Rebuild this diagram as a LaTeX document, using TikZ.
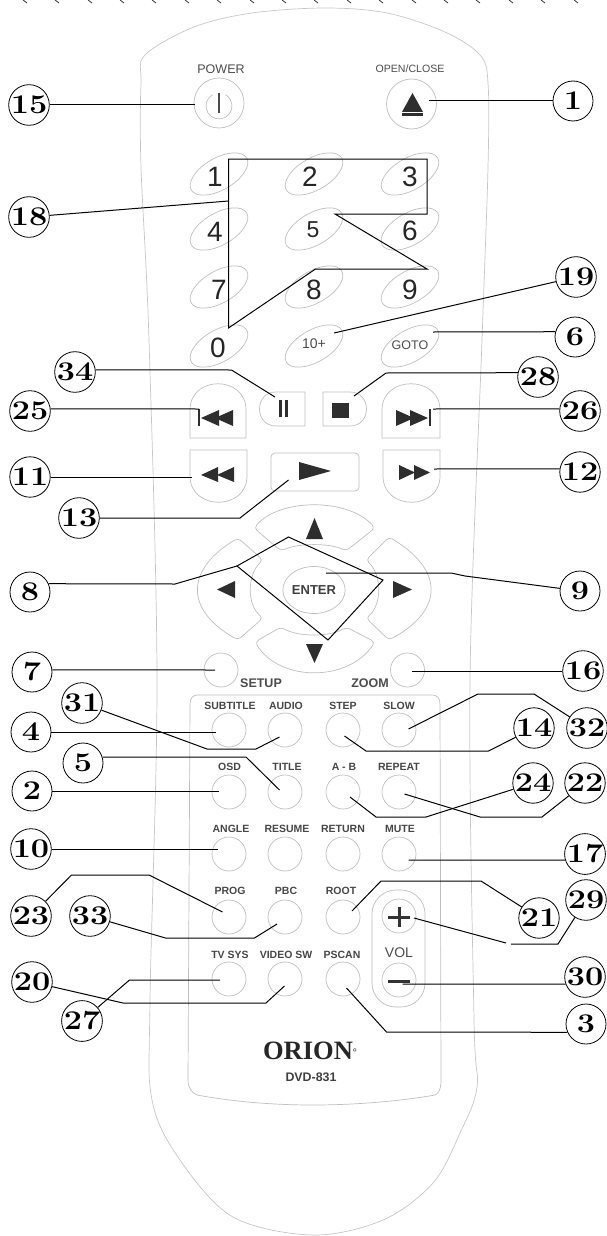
\documentclass[tikz,border=0pt]{standalone}
\usepackage{fontspec}
\setsansfont{Liberation Sans}
\newfontfamily\brandfont{Liberation Serif}
\usetikzlibrary{shapes.geometric}
\newcommand{\num}[1]{\scalebox{1.2}[1]{#1}}

\begin{document}
\begin{tikzpicture}[x=1pt, y=-1pt,
    badge/.style={draw, circle, line width=0.8pt, minimum size=40pt, inner sep=0pt, font=\bfseries\fontsize{27}{27}\selectfont},
    leader/.style={draw, line width=1pt, black, line join=miter},
    bodyline/.style={draw, line width=0.7pt, black!22},
    keyline/.style={draw, line width=0.7pt, black!25},
    round key/.style={keyline, circle, minimum size=34pt, inner sep=0pt},
    icon/.style={fill=black!82},
    digit/.style={text=black!85, inner sep=0pt, font=\sffamily\fontsize{28}{28}\selectfont},
    keytext/.style={text=black!72, inner sep=0pt, font=\sffamily\bfseries\fontsize{10.5}{12}\selectfont},
    bigtext/.style={text=black!70, inner sep=0pt, font=\sffamily\fontsize{12.5}{14}\selectfont}
]
\useasboundingbox (0,0) rectangle (607,1236);

% Ticks left on the top edge
\draw[line width=0.8pt, black!80] (23,0) -- ++(4,3) (55,0) -- ++(4,3) (88,0) -- ++(4,3) (120,0) -- ++(4,3)
    (152,0) -- ++(4,3) (185,0) -- ++(4,3) (217,0) -- ++(4,3) (250,0) -- ++(4,3) (282,0) -- ++(4,3)
    (314,0) -- ++(4,3) (347,0) -- ++(4,3) (379,0) -- ++(4,3) (412,0) -- ++(4,3) (444,0) -- ++(4,3)
    (476,0) -- ++(4,3) (509,0) -- ++(4,3) (541,0) -- ++(4,3) (574,0) -- ++(4,3);

% Remote body and lower panel
\draw[bodyline] plot[smooth cycle, tension=0.55] coordinates {(325,8) (387,13) (445,32) (480,55) (488,83) (488,167)
    (482,340) (470,680) (474,1020) (477,1087) (460,1133) (433,1183) (383,1220) (313,1235) (233,1217)
    (180,1160) (152,1100) (150,1000) (157,680) (149,340) (141,167) (141,83) (145,55) (194,27) (252,13)};
\draw[keyline] (199,695) -- (431,695) .. controls (438,695) and (440,698) .. (440,705) -- (441,1080)
    .. controls (441,1090) and (438,1094) .. (435,1095) .. controls (395,1102) and (350,1105) .. (313,1105)
    .. controls (275,1105) and (235,1102) .. (197,1095) .. controls (192,1093) and (188,1088) .. (188,1080)
    -- (190,705) .. controls (190,698) and (192,695) .. (199,695) -- cycle;

% Power and open/close
\node[bigtext, font=\sffamily\fontsize{12.5}{14}\selectfont] (powerText) at (221,69) {POWER};
\node[bigtext, font=\sffamily\fontsize{10.6}{12}\selectfont] (openText) at (410,69) {OPEN/CLOSE};
\node[round key, minimum size=50pt] (power) at (219,103) {};
\node[round key, minimum size=50pt] (open) at (411.5,104) {};
\draw[keyline] (212.5,94.7) arc[start angle=120, end angle=420, radius=13pt];
\draw[line width=1.2pt, black!70] (219,93) -- (219,113);
\fill[icon] (412.5,93) -- (423,112) -- (402,112) -- cycle;
\fill[icon] (402,113.5) rectangle (423,116);

% Number keys
\draw[keyline, rotate around={30:(219,174)}] (219,174) ellipse (32 and 16);
\draw[keyline, rotate around={30:(314,174)}] (314,174) ellipse (32 and 16);
\draw[keyline, rotate around={30:(410,174)}] (410,174) ellipse (32 and 16);
\draw[keyline, rotate around={30:(219,229)}] (219,229) ellipse (32 and 16);
\draw[keyline, rotate around={30:(314,229)}] (314,229) ellipse (32 and 16);
\draw[keyline, rotate around={30:(410,229)}] (410,229) ellipse (32 and 16);
\draw[keyline, rotate around={30:(219,287)}] (219,287) ellipse (32 and 16);
\draw[keyline, rotate around={30:(314,287)}] (314,287) ellipse (32 and 16);
\draw[keyline, rotate around={30:(410,287)}] (410,287) ellipse (32 and 16);
\draw[keyline, rotate around={30:(219,346)}] (219,346) ellipse (32 and 16);
\draw[keyline, rotate around={30:(314,346)}] (314,346) ellipse (32 and 16);
\draw[keyline, rotate around={30:(410,346)}] (410,346) ellipse (32 and 16);
\node[digit] (d1) at (215,177) {1};
\node[digit] (d2) at (310,177) {2};
\node[digit] (d3) at (410,177) {3};
\node[digit] (d4) at (215,232) {4};
\node[digit, font=\sffamily\fontsize{23}{23}\selectfont] (d5) at (313,230) {5};
\node[digit] (d6) at (410,231) {6};
\node[digit] (d7) at (219,290) {7};
\node[digit] (d8) at (314,290) {8};
\node[digit] (d9) at (410,290) {9};
\node[digit] (d0) at (218,348) {0};
\node[bigtext, font=\sffamily\fontsize{14}{14}\selectfont] (d10) at (314,344) {10+};
\node[bigtext] (goto) at (410,345) {GOTO};

% Transport keys
\draw[keyline] (190,438) -- (190,410) .. controls (190,375) and (246,375) .. (246,410) -- (246,438) -- cycle;
\draw[keyline] (382,438) -- (382,410) .. controls (382,375) and (440,375) .. (440,410) -- (440,438) -- cycle;
\draw[keyline] (190,450) -- (190,476) .. controls (190,511) and (247,511) .. (247,476) -- (247,450) -- cycle;
\draw[keyline] (383,450) -- (383,476) .. controls (383,511) and (440,511) .. (440,476) -- (440,450) -- cycle;
\draw[keyline] (305,392) -- (305,426) -- (276,426) .. controls (254,426) and (254,392) .. (276,392) -- cycle;
\draw[keyline] (323,392) -- (323,426) -- (350,426) .. controls (372,426) and (372,392) .. (350,392) -- cycle;
\draw[keyline, rounded corners=4pt] (271,453) rectangle (359,491);
\fill[icon] (198,409) rectangle (200,426);
\fill[icon] (201,418) -- (219,410) -- (219,426) -- cycle;
\fill[icon] (215,418) -- (233,410) -- (233,426) -- cycle;
\fill[icon] (428.5,409) rectangle (430.5,426);
\fill[icon] (428,418) -- (410,410) -- (410,426) -- cycle;
\fill[icon] (414,418) -- (396,410) -- (396,426) -- cycle;
\fill[icon] (279,400) rectangle (282,417);
\fill[icon] (285,400) rectangle (288,417);
\fill[icon] (332,403) rectangle (349,418);
\fill[icon] (201,475) -- (218,467) -- (218,482) -- cycle;
\fill[icon] (217,475) -- (234,467) -- (234,482) -- cycle;
\fill[icon] (430,472.5) -- (414,465) -- (414,480) -- cycle;
\fill[icon] (415,472.5) -- (399,465) -- (399,480) -- cycle;
\fill[icon] (331,471) -- (299,462) -- (299,480) -- cycle;

% Arrow ring
\draw[keyline, rounded corners=4pt] (254,528) .. controls (280,498) and (348,498) .. (375,528) -- (346,551) .. controls (330,543) and (298,543) .. (281,551) -- cycle;
\draw[keyline, rounded corners=4pt] (255,642) .. controls (280,682) and (348,682) .. (375,642) -- (346,627) .. controls (330,637) and (298,637) .. (281,627) -- cycle;
\draw[keyline, rounded corners=4pt] (238,538) .. controls (185,570) and (185,610) .. (238,640) -- (263,618) .. controls (247,605) and (247,575) .. (263,560) -- cycle;
\draw[keyline, rounded corners=4pt] (389,537) .. controls (444,570) and (444,610) .. (389,640) -- (366,618) .. controls (382,605) and (382,575) .. (366,560) -- cycle;
\node[keyline, ellipse, minimum width=58pt, minimum height=47pt, inner sep=0pt, text=black!75, font=\sffamily\bfseries\fontsize{13}{14}\selectfont] (enter) at (314,590) {ENTER};
\fill[icon] (314.5,518) -- (323,539) -- (306,539) -- cycle;
\fill[icon] (314.5,663) -- (323,644) -- (306,644) -- cycle;
\fill[icon] (217,589.5) -- (235,581) -- (235,598) -- cycle;
\fill[icon] (412,589.5) -- (393,581) -- (393,598) -- cycle;

% Setup and zoom
\node[round key] (setup) at (221,670) {};
\node[round key] (zoom) at (407.5,670) {};
\node[bigtext, font=\sffamily\bfseries\fontsize{12.5}{14}\selectfont] (setupText) at (261,683) {SETUP};
\node[bigtext, font=\sffamily\bfseries\fontsize{12.5}{14}\selectfont] (zoomText) at (370,683) {ZOOM};

% Round keys of the panel
\node[round key] (subtitle) at (229,730) {};
\node[round key] (audio) at (285,730) {};
\node[round key] (stepkey) at (343,730) {};
\node[round key] (slow) at (399,730) {};
\node[round key] (osd) at (229,792) {};
\node[round key] (title) at (285,792) {};
\node[round key] (ab) at (343,792) {};
\node[round key] (repeat) at (399,792) {};
\node[round key] (angle) at (229,854) {};
\node[round key] (resume) at (285,854) {};
\node[round key] (return) at (343,854) {};
\node[round key] (mute) at (399,854) {};
\node[round key] (prog) at (229,917) {};
\node[round key] (pbc) at (285,917) {};
\node[round key] (root) at (343,917) {};
\node[round key] (tvsys) at (229,979) {};
\node[round key] (videosw) at (285,979) {};
\node[round key] (pscan) at (343,979) {};

\node[keytext] (subtitleText) at (230,706) {SUBTITLE};
\node[keytext] (audioText) at (286,706) {AUDIO};
\node[keytext] (stepText) at (343,706) {STEP};
\node[keytext] (slowText) at (399,706) {SLOW};
\node[keytext] (osdText) at (229.5,767) {OSD};
\node[keytext] (titleText) at (287,767) {TITLE};
\node[keytext] (abText) at (344,767) {A - B};
\node[keytext] (repeatText) at (399,767) {REPEAT};
\node[keytext] (angleText) at (231,829) {ANGLE};
\node[keytext] (resumeText) at (287,829) {RESUME};
\node[keytext] (returnText) at (343,829) {RETURN};
\node[keytext] (muteText) at (400,829) {MUTE};
\node[keytext] (progText) at (230,891) {PROG};
\node[keytext] (pbcText) at (286,891) {PBC};
\node[keytext] (rootText) at (341,891) {ROOT};
\node[keytext] (tvsysText) at (230,955) {TV SYS};
\node[keytext] (videoswText) at (286,955) {VIDEO SW};
\node[keytext] (pscanText) at (342,955) {PSCAN};

% Volume
\draw[keyline, rounded corners=24pt] (372,890) rectangle (425,1007);
\node[round key] (volUp) at (399,916) {};
\node[round key] (volDown) at (399,980) {};
\node[bigtext, font=\sffamily\fontsize{14}{14}\selectfont] (volText) at (399,953) {VOL};
\draw[line width=3pt, black!80] (388,917) -- (410,917) (399,907) -- (399,927);
\draw[line width=3pt, black!80] (388,981.5) -- (410,981.5);

% Brand
\node[inner sep=0pt, text=black!85, font=\brandfont\bfseries\fontsize{26.5}{28}\selectfont] (brand) at (310,1051) {ORION\raisebox{4pt}{\fontsize{10}{10}\selectfont°}};
\node[inner sep=0pt, text=black!75, font=\sffamily\bfseries\fontsize{12.4}{14}\selectfont] (model) at (311,1077) {DVD-831};

% Number badges, left side
\node[badge] (b15) at (29,105) {\num{15}};
\node[badge] (b18) at (29,217) {\num{18}};
\node[badge] (b34) at (75,372) {\num{34}};
\node[badge] (b25) at (30,411) {\num{25}};
\node[badge] (b11) at (30,477) {\num{11}};
\node[badge] (b13) at (79,518) {\num{13}};
\node[badge] (b8) at (30,592) {\num{8}};
\node[badge] (b7) at (32,672) {\num{7}};
\node[badge] (b31) at (82,703) {\num{31}};
\node[badge] (b4) at (31,732) {\num{4}};
\node[badge] (b5) at (83,763) {\num{5}};
\node[badge] (b2) at (32,791) {\num{2}};
\node[badge] (b10) at (31,849) {\num{10}};
\node[badge] (b23) at (31,916) {\num{23}};
\node[badge] (b33) at (90,916) {\num{33}};
\node[badge] (b20) at (32,982) {\num{20}};
\node[badge] (b27) at (82,1021) {\num{27}};

% Number badges, right side
\node[badge] (b1) at (573,101) {\num{1}};
\node[badge] (b19) at (576,277) {\num{19}};
\node[badge] (b6) at (575,337) {\num{6}};
\node[badge] (b28) at (538,377) {\num{28}};
\node[badge] (b26) at (580,411) {\num{26}};
\node[badge] (b12) at (580,472) {\num{12}};
\node[badge] (b9) at (580,591) {\num{9}};
\node[badge] (b16) at (583,671) {\num{16}};
\node[badge] (b14) at (534,728) {\num{14}};
\node[badge] (b32) at (587,728) {\num{32}};
\node[badge] (b24) at (533,783) {\num{24}};
\node[badge] (b22) at (585,783) {\num{22}};
\node[badge] (b17) at (585,854) {\num{17}};
\node[badge] (b21) at (539,918) {\num{21}};
\node[badge] (b29) at (586,900) {\num{29}};
\node[badge] (b30) at (585,977) {\num{30}};
\node[badge] (b3) at (586,1024) {\num{3}};

% Leader ends at the keys
\coordinate (e1) at (429,101);
\coordinate (e2) at (219,791);
\coordinate (e3) at (346.5,988);
\coordinate (e4) at (216,732);
\coordinate (e5) at (279.5,790);
\coordinate (e6) at (433,332);
\coordinate (e7) at (215,670);
\coordinate (e9) at (326,573);
\coordinate (e10) at (217.5,849);
\coordinate (e11) at (192,477);
\coordinate (e12) at (434,469);
\coordinate (e13) at (288.5,480);
\coordinate (e14) at (344.5,736);
\coordinate (e15) at (195,105);
\coordinate (e16) at (411.5,671);
\coordinate (e17) at (408.5,860);
\coordinate (e19) at (334,333);
\coordinate (e20) at (284.5,986);
\coordinate (e21) at (352,911);
\coordinate (e22) at (404.5,794);
\coordinate (e23) at (222.5,912);
\coordinate (e24) at (350,797);
\coordinate (e25) at (199,409);
\coordinate (e26) at (433,409);
\coordinate (e27) at (220,980);
\coordinate (e28) at (354,396);
\coordinate (e29) at (414,918);
\coordinate (e30) at (402.5,984);
\coordinate (e31) at (279.5,737);
\coordinate (e32) at (408.5,729);
\coordinate (e33) at (277,924);
\coordinate (e34) at (275,397);

% Straight leaders
\draw[leader] (b15) -- (e15);
\draw[leader] (b1) -- (e1);
\draw[leader] (b19) -- (e19);
\draw[leader] (b6.165) -- (e6);
\draw[leader] (b25.6) -- (e25);
\draw[leader] (b26.174) -- (e26);
\draw[leader] (b11) -- (e11);
\draw[leader] (b12.171) -- (e12);
\draw[leader] (b7.6) -- (e7);
\draw[leader] (b16) -- (e16);
\draw[leader] (b4) -- (e4);
\draw[leader] (b2) -- (e2);
\draw[leader] (b10) -- (e10);
\draw[leader] (b17.197) -- (e17);
\draw[leader] (b30.200) -- (e30);

% Bent leaders
\draw[leader] (b34.6) -- (231.5,370) -- (e34);
\draw[leader] (b28.168) -- (386,373) -- (e28);
\draw[leader] (b13) -- (240,518) -- (e13);
\draw[leader] (b9) -- (465,576) -- (451,573) -- (e9);
\draw[leader] (b31) -- (207,749) -- (256,749) -- (e31);
\draw[leader] (b5.17) -- (246,757) -- (e5);
\draw[leader] (b32) -- (534,694) -- (478,694) -- (e32);
\draw[leader] (b14) -- (488.5,751) -- (366,751) -- (e14);
\draw[leader] (b24) -- (426,817) -- (376,817) -- (e24);
\draw[leader] (b22) -- (542,817) -- (480,817) -- (e22);
\draw[leader] (b23) -- (71.5,875) -- (149,875) -- (e23);
\draw[leader] (b33) -- (165.5,938) -- (254.5,938) -- (e33);
\draw[leader] (b21) -- (481,881) -- (381,881) -- (e21);
\draw[leader] (b20) -- (123,1003) -- (266,1003) -- (e20);
\draw[leader] (b27) -- (129.5,980) -- (e27);
\draw[leader] (b3.204) -- (386.5,1032) -- (e3);

% Leader 29 has a gap in it
\coordinate (gapA) at (511,944);
\coordinate (gapB) at (506,943);
\draw[leader] (b29) -- (558,944) -- (gapA);
\draw[leader] (gapB) -- (e29);

% Leader 18 and its outline round the number keys
\coordinate (join18) at (228.5,201);
\draw[leader] (b18) -- (join18);
\draw[leader] (228.5,328) -- (228.5,159) -- (427,159) -- (427,214) -- (335,214) -- (427,269) -- (315.5,269) -- cycle;

% Leader 8 and its outline round the arrow keys
\coordinate (join8) at (237,566);
\draw[leader] (b8.24) -- (175,584) -- (join8);
\draw[leader] (join8) -- (288.5,537) -- (383,580) -- (328,640) -- cycle;

\end{tikzpicture}
\end{document}
